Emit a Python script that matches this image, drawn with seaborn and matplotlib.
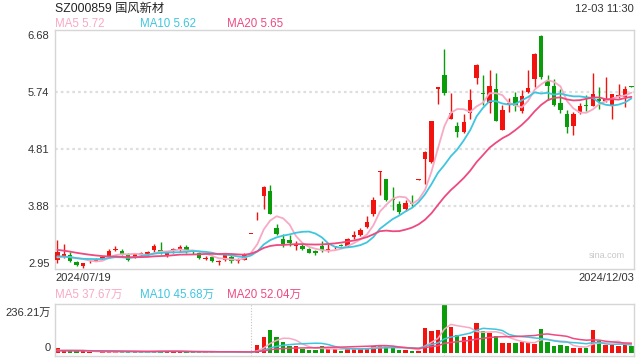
import numpy as np
import pandas as pd
import matplotlib
matplotlib.use("Agg")
import matplotlib.pyplot as plt
import seaborn as sns

# ---------------- data ----------------
title = "SZ000859 国风新材"
stamp = "12-03 11:30"
date_first = "2024/07/19"
date_last = "2024/12/03"
price_ticks = [2.95, 3.88, 4.81, 5.74, 6.68]
ma_price_labels = ["MA5 5.72", "MA10 5.62", "MA20 5.65"]
ma_vol_labels = ["MA5 37.67万", "MA10 45.68万", "MA20 52.04万"]
vol_max_label = "236.21万"
vol_max = 236.21

prior_close = [3.35, 3.32, 3.30, 3.28, 3.30, 3.27, 3.25, 3.26, 3.22, 3.20,
               3.12, 3.10, 3.08, 3.06, 3.04, 3.05, 3.02, 3.00, 3.03]
prior_volume = [14, 12, 15, 11, 13, 12, 10, 14, 12, 11, 13, 10, 12, 11, 9, 12, 10, 11, 13]

open_ = [3.00, 3.06, 3.08, 2.97, 2.90, 2.98, 2.99, 3.02, 3.06, 3.17,
         3.15, 3.08, 3.04, 3.08, 3.08, 3.17, 3.16, 3.09, 3.15, 3.16,
         3.21, 3.14, 3.11, 3.02, 3.06, 2.97, 3.01, 3.06, 2.98, 3.01,
         3.43, 3.78, 4.04, 4.13, 3.52, 3.35, 3.33, 3.24, 3.24, 3.18,
         3.15, 3.23, 3.16, 3.21, 3.25, 3.23, 3.38, 3.41, 3.54, 3.75,
         4.44, 4.32, 4.00, 3.91, 3.84, 3.93, 4.31, 4.65, 4.60, 5.80,
         6.03, 5.31, 5.19, 5.09, 5.41, 5.97, 5.73, 5.57, 5.79, 5.13,
         5.55, 5.66, 5.44, 5.75, 5.95, 6.66, 5.93, 5.85, 5.56, 5.39,
         5.19, 5.41, 5.54, 5.52, 5.63, 5.60, 5.53, 5.66, 5.67, 5.84]
high = [3.33, 3.27, 3.13, 2.99, 2.96, 3.01, 3.03, 3.06, 3.18, 3.23,
        3.18, 3.11, 3.12, 3.13, 3.15, 3.27, 3.30, 3.14, 3.20, 3.25,
        3.25, 3.17, 3.13, 3.07, 3.08, 3.01, 3.11, 3.10, 3.04, 3.11,
        3.43, 3.79, 4.21, 4.22, 3.59, 3.42, 3.41, 3.31, 3.26, 3.20,
        3.17, 3.31, 3.27, 3.24, 3.27, 3.36, 3.48, 3.52, 3.72, 4.03,
        4.45, 4.32, 4.19, 3.96, 3.99, 4.06, 4.32, 4.79, 5.28, 5.83,
        6.45, 5.73, 5.26, 5.39, 5.79, 6.20, 6.02, 6.11, 6.05, 5.54,
        5.65, 5.75, 5.77, 6.10, 6.38, 6.68, 6.03, 5.96, 5.80, 5.45,
        5.42, 5.57, 5.69, 6.05, 5.83, 5.99, 5.72, 5.87, 5.85, 5.84]
low = [2.955, 3.03, 2.97, 2.91, 2.88, 2.96, 2.98, 3.01, 3.05, 3.15,
       3.08, 2.99, 3.03, 3.07, 3.07, 3.13, 3.10, 3.05, 3.11, 3.14,
       3.11, 3.10, 3.02, 3.00, 2.97, 2.92, 2.99, 2.96, 2.95, 3.00,
       3.43, 3.66, 3.83, 3.75, 3.41, 3.22, 3.24, 3.16, 3.16, 3.11,
       3.08, 3.13, 3.14, 3.19, 3.23, 3.22, 3.35, 3.40, 3.52, 3.72,
       4.07, 3.97, 3.82, 3.76, 3.80, 3.87, 4.31, 4.25, 4.58, 5.55,
       5.69, 5.31, 5.01, 5.08, 5.30, 5.87, 5.54, 5.41, 5.27, 5.13,
       5.42, 5.43, 5.40, 5.73, 5.82, 5.95, 5.62, 5.52, 5.41, 5.08,
       5.04, 5.39, 5.43, 5.52, 5.47, 5.58, 5.31, 5.64, 5.50, 5.83]
close = [3.13, 3.10, 2.99, 2.92, 2.955, 3.01, 3.02, 3.05, 3.15, 3.18,
         3.10, 3.00, 3.10, 3.11, 3.13, 3.23, 3.13, 3.12, 3.18, 3.22,
         3.15, 3.13, 3.04, 3.04, 2.98, 2.98, 3.08, 2.98, 3.02, 3.08,
         3.43, 3.79, 4.19, 3.75, 3.43, 3.26, 3.28, 3.25, 3.18, 3.12,
         3.11, 3.17, 3.19, 3.22, 3.24, 3.34, 3.41, 3.49, 3.62, 3.99,
         4.45, 3.98, 3.98, 3.79, 3.93, 3.92, 4.32, 4.77, 5.28, 5.83,
         5.73, 5.41, 5.09, 5.26, 5.61, 6.18, 5.72, 5.85, 5.27, 5.45,
         5.56, 5.51, 5.68, 5.81, 6.36, 5.99, 5.85, 5.54, 5.45, 5.17,
         5.38, 5.51, 5.52, 5.72, 5.60, 5.63, 5.72, 5.69, 5.80, 5.83]
volume = [26, 16, 11, 11, 11, 6.5, 3.3, 6.5, 8, 8,
          10, 8, 6.5, 5, 6.5, 13, 13, 10, 10, 8,
          8, 5, 6.5, 5, 6.5, 3.3, 5, 6.5, 3.3, 5,
          3.3, 41, 77, 111, 81, 55, 37, 33, 20, 18,
          16, 33, 20, 20, 13, 24, 28, 24, 24, 33,
          41, 36, 33, 16, 16, 11, 10, 122, 106, 111,
          236.21, 125, 90, 81, 85, 147, 106, 98, 85, 49,
          49, 49, 57, 57, 46, 119, 57, 33, 41, 33,
          26, 26, 26, 112, 60, 41, 41, 37, 41, 33]

# ---------------- styling ----------------
RED = "#f2130f"
GREEN = "#0b9c0b"
C_MA5 = "#f8a9c4"
C_MA10 = "#3ec6df"
C_MA20 = "#ee4a80"
FRAME = "#d6d6d6"
TXT = "#333333"

sns.set_theme(style="white")
plt.rcParams["font.family"] = ["Liberation Sans", "Noto Sans CJK SC", "DejaVu Sans"]

n = len(close)
df = pd.DataFrame({"i": np.arange(n), "open": open_, "high": high,
                   "low": low, "close": close, "volume": volume})
up = df["close"] >= df["open"]
df["color"] = np.where(up, RED, GREEN)

full_close = pd.Series(prior_close + close)
full_vol = pd.Series(prior_volume + volume)
k = len(prior_close)
for w in (5, 10, 20):
    df[f"ma{w}"] = full_close.rolling(w, min_periods=1).mean().iloc[k:].to_numpy()
    df[f"vma{w}"] = full_vol.rolling(w, min_periods=1).mean().iloc[k:].to_numpy()

W, H = 640, 360
fig = plt.figure(figsize=(6.4, 3.6), dpi=100)
ax = fig.add_axes([55 / W, 1 - 268.5 / H, 579 / W, 239 / H])
axv = fig.add_axes([55 / W, 1 - 356 / H, 579 / W, 52 / H])

xlim = (-0.36, 89.4)

# ---- price panel ----
for g in price_ticks[1:-1]:
    ax.axhline(g, color="#dedede", lw=1.6, ls=(0, (1.2, 1.4)), zorder=0)

body_w = 0.68
ax.vlines(df["i"], df["low"], df["high"], colors=df["color"], lw=1.0, zorder=2)
body_bottom = np.minimum(df["open"], df["close"])
body_h = np.maximum((df["close"] - df["open"]).abs(), 0.014)
ax.bar(df["i"], body_h, bottom=body_bottom, width=body_w, color=df["color"],
       linewidth=0, zorder=3)

sns.lineplot(data=df, x="i", y="ma5", ax=ax, color=C_MA5, lw=1.3, zorder=4)
sns.lineplot(data=df, x="i", y="ma10", ax=ax, color=C_MA10, lw=1.3, zorder=4)
sns.lineplot(data=df, x="i", y="ma20", ax=ax, color=C_MA20, lw=1.3, zorder=4)

ax.set_xlim(*xlim)
ax.set_ylim(2.865, 6.765)
ax.set_yticks(price_ticks)
ax.set_yticklabels([f"{t:.2f}" for t in price_ticks])
ax.set_xticks([])
ax.set_xlabel("")
ax.set_ylabel("")
ax.tick_params(axis="y", length=0, pad=4, labelsize=8, labelcolor=TXT)
for s in ax.spines.values():
    s.set_color(FRAME)
    s.set_linewidth(1.0)
ax.text(0.985, 0.035, "sina.com", transform=ax.transAxes, ha="right",
        va="bottom", fontsize=6.5, color="#c8c8c8")

# ---- volume panel ----
axv.bar(df["i"], df["volume"], width=body_w, color=df["color"], linewidth=0, zorder=2)
sns.lineplot(data=df, x="i", y="vma5", ax=axv, color=C_MA5, lw=1.1, zorder=3)
sns.lineplot(data=df, x="i", y="vma10", ax=axv, color=C_MA10, lw=1.1, zorder=3)
sns.lineplot(data=df, x="i", y="vma20", ax=axv, color=C_MA20, lw=1.1, zorder=3)
for xv in (30.0, 60.0):
    axv.axvline(xv, color="#c4c4c4", lw=0.8, ls=(0, (1, 1.5)), zorder=1)
axv.set_xlim(*xlim)
axv.set_ylim(-13, vol_max * 1.01)
axv.set_xticks([])
axv.set_yticks([])
axv.set_xlabel("")
axv.set_ylabel("")
for s in axv.spines.values():
    s.set_color(FRAME)
    s.set_linewidth(1.0)

# ---- texts ----
fig.text(55 / W, 1 - 8.5 / H, title, fontsize=8.8, color="#222222", ha="left", va="center")
fig.text(634 / W, 1 - 8.5 / H, stamp, fontsize=8, color=TXT, ha="right", va="center")
for lab, xp, col in zip(ma_price_labels, (55, 140, 227), (C_MA5, C_MA10, C_MA20)):
    fig.text(xp / W, 1 - 24 / H, lab, fontsize=8.3, color=col, ha="left", va="center")
fig.text(55 / W, 1 - 278 / H, date_first, fontsize=8, color=TXT, ha="left", va="center")
fig.text(634 / W, 1 - 278 / H, date_last, fontsize=8, color=TXT, ha="right", va="center")
for lab, xp, col in zip(ma_vol_labels, (55, 140, 227), (C_MA5, C_MA10, C_MA20)):
    fig.text(xp / W, 1 - 294.5 / H, lab, fontsize=8.3, color=col, ha="left", va="center")
fig.text(51 / W, 1 - 313 / H, vol_max_label, fontsize=8, color=TXT, ha="right", va="center")
fig.text(51 / W, 1 - 348 / H, "0", fontsize=8, color=TXT, ha="right", va="center")

fig.savefig("out.png", dpi=100, facecolor="white")
